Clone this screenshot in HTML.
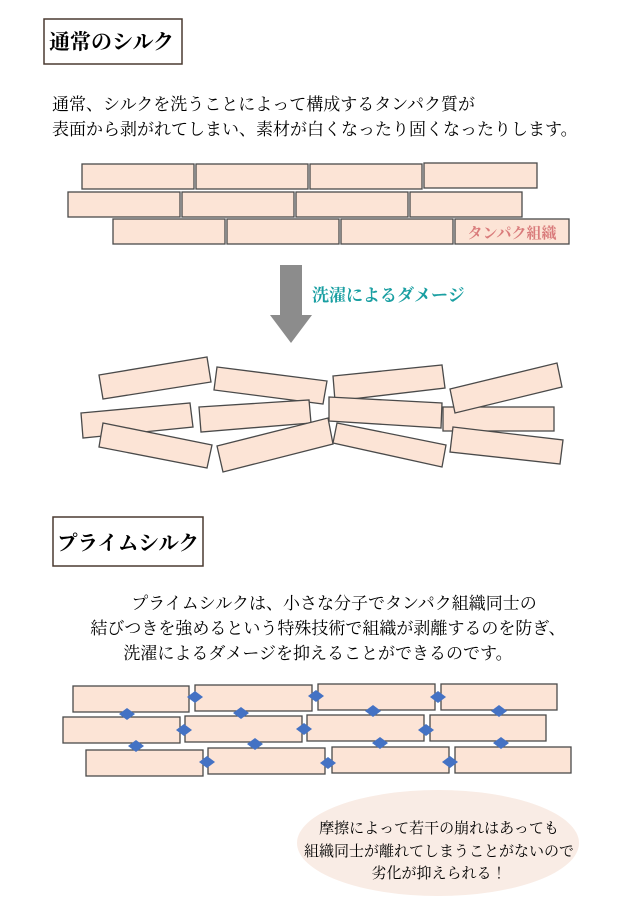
<!DOCTYPE html>
<html><head><meta charset="utf-8"><style>
body{margin:0;background:#fff;}
svg{display:block;}
text{font-family:"Liberation Serif","Noto Serif CJK JP","Noto Serif CJK SC",serif;}
.b{fill:#fce4d6;stroke:#4a4a4a;stroke-width:1.3;}
.d{fill:#4472c4;}
</style></head><body>
<svg width="640" height="905" viewBox="0 0 640 905" xmlns="http://www.w3.org/2000/svg">
<rect x="44" y="19" width="138" height="45" fill="#fff" stroke="#4a3a30" stroke-width="1.5"/>
<text x="49" y="49" font-size="21" font-weight="bold">通常のシルク</text>
<text x="52" y="110" font-size="17">通常、シルクを洗うことによって構成するタンパク質が</text>
<text x="52" y="135" font-size="17">表面から剥がれてしまい、素材が白くなったり固くなったりします。</text>
<g class="b">
<rect x="82" y="164" width="112" height="25"/><rect x="196" y="164" width="112" height="25"/><rect x="310" y="164" width="112" height="25"/><rect x="424" y="163" width="113" height="25"/>
<rect x="68" y="192" width="112" height="25"/><rect x="182" y="192" width="112" height="25"/><rect x="296" y="192" width="112" height="25"/><rect x="410" y="192" width="112" height="25"/>
<rect x="113" y="219" width="112" height="25"/><rect x="227" y="219" width="112" height="25"/><rect x="341" y="219" width="112" height="25"/><rect x="455" y="219" width="114" height="25"/>
</g>
<text x="512" y="238" font-size="15" font-weight="bold" fill="#d97b7b" text-anchor="middle">タンパク組織</text>
<rect x="280" y="265" width="22" height="52" fill="#8c8c8c"/>
<polygon points="270,315 312,315 291,343" fill="#8c8c8c"/>
<text x="312" y="301" font-size="17" font-weight="bold" fill="#1a9fa2">洗濯によるダメージ</text>
<g class="b">
<polygon points="99,375 207,357 211,382 103,399"/>
<polygon points="217,367 327,381 323,404 214,390"/>
<polygon points="333,376 442,365 445,388 335,401"/>
<polygon points="81,413 190,403 193,427 83,438"/>
<polygon points="199,407 309,400 311,423 201,432"/>
<polygon points="329,397 442,403 441,428 329,421"/>
<rect x="443" y="407" width="111" height="24"/>
<polygon points="450,389 557,363 562,387 455,413"/>
<polygon points="103,423 212,445 207,468 99,447"/>
<polygon points="217,446 328,418 333,444 223,472"/>
<polygon points="337,423 446,445 442,467 333,443"/>
<polygon points="453,427 563,440 560,464 450,452"/>
</g>
<rect x="53" y="517" width="150" height="49" fill="#fff" stroke="#4a3a30" stroke-width="1.5"/>
<text x="57" y="550" font-size="20.5" font-weight="bold">プライムシルク</text>
<g font-size="17" text-anchor="middle">
<text x="334" y="609">プライムシルクは、小さな分子でタンパク組織同士の</text>
<text x="328" y="634">結びつきを強めるという特殊技術で組織が剥離するのを防ぎ、</text>
<text x="318" y="659">洗濯によるダメージを抑えることができるのです。</text>
</g>
<g class="b">
<rect x="73" y="686" width="116" height="26"/><rect x="195" y="685" width="117" height="26"/><rect x="318" y="684" width="117" height="26"/><rect x="441" y="684" width="116" height="26"/>
<rect x="63" y="717" width="117" height="26"/><rect x="185" y="716" width="117" height="26"/><rect x="307" y="715" width="117" height="26"/><rect x="430" y="715" width="116" height="26"/>
<rect x="86" y="750" width="117" height="26"/><rect x="208" y="748" width="117" height="26"/><rect x="332" y="747" width="117" height="26"/><rect x="455" y="747" width="116" height="26"/>
</g>
<g class="d">
<path d="M195 691l8 6-8 6-8-6z"/><path d="M316 690l8 6-8 6-8-6z"/><path d="M438 691l8 6-8 6-8-6z"/>
<path d="M127 708l8 6-8 6-8-6z"/><path d="M241 707l8 6-8 6-8-6z"/><path d="M373 705l8 6-8 6-8-6z"/><path d="M499 705l8 6-8 6-8-6z"/>
<path d="M184 724l8 6-8 6-8-6z"/><path d="M304 723l8 6-8 6-8-6z"/><path d="M426 724l8 6-8 6-8-6z"/>
<path d="M136 740l8 6-8 6-8-6z"/><path d="M255 738l8 6-8 6-8-6z"/><path d="M380 737l8 6-8 6-8-6z"/><path d="M501 737l8 6-8 6-8-6z"/>
<path d="M207 756l8 6-8 6-8-6z"/><path d="M328 757l8 6-8 6-8-6z"/><path d="M450 756l8 6-8 6-8-6z"/>
</g>
<ellipse cx="438" cy="843" rx="141" ry="53" fill="#f9ece5"/>
<g font-size="15" text-anchor="middle">
<text x="439" y="833">摩擦によって若干の崩れはあっても</text>
<text x="439" y="856">組織同士が離れてしまうことがないので</text>
<text x="439" y="878">劣化が抑えられる！</text>
</g>
</svg>
</body></html>
